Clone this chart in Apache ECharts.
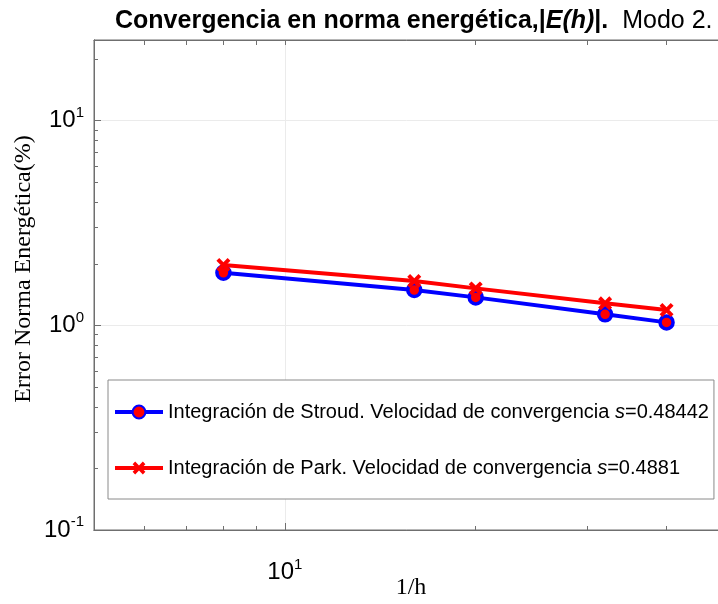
<!DOCTYPE html>
<html>
<head>
<meta charset="utf-8">
<script src="https://cdn.jsdelivr.net/npm/echarts@6.0.0/dist/echarts.min.js"></script>
<style>
  html, body { margin: 0; padding: 0; background: #fff; }
  #chart { width: 718px; height: 604px; }
</style>
</head>
<body>
<div id="chart"></div>
<script>
// 1/h values and error (%)
var invH = [8, 16, 20, 32, 40];
var errStroud = [1.807, 1.488, 1.370, 1.132, 1.034];
var errPark = [1.971, 1.646, 1.516, 1.281, 1.188];

var seriesNames = ['Integración de Stroud. Velocidad de convergencia', 'Integración de Park. Velocidad de convergencia'];
var rates = ['0.48442', '0.4881'];

// tick positions (log axes, MATLAB style)
var xMajor = [10];
var xMinor = [6, 7, 8, 9, 20, 30, 40];
var yMajor = [0.1, 1, 10];
var yMinor = [0.2, 0.3, 0.4, 0.5, 0.6, 0.7, 0.8, 0.9, 2, 3, 4, 5, 6, 7, 8, 9, 20];

var axisGray = '#6f6f6f';
var font = 'Liberation Sans, Arial';
var serif = 'Liberation Serif, Times New Roman';

function pairs(xs, ys) {
    return xs.map(function (x, i) { return [x, ys[i]]; });
}

function powLabel(v) {
    var e = Math.round(Math.log10(v));
    return '{b|10}{s|' + e + '}';
}

var powRich = {
    b: { fontFamily: font, fontSize: 24, color: '#000' },
    s: { fontFamily: font, fontSize: 15, color: '#000', padding: [0, 0, 16, 0] }
};

// helper: a tick-only log axis sharing the grid
function tickAxis(base, pos, ticks, len) {
    return {
        type: 'log', min: base[0], max: base[1], position: pos,
        axisLine: { show: true, lineStyle: { color: axisGray } },
        axisTick: { show: true, inside: true, length: len, customValues: ticks, lineStyle: { color: axisGray } },
        axisLabel: { show: false },
        splitLine: { show: false }
    };
}

var xRange = [5, 50];
var yRange = [0.1, 24.8];

var chart = echarts.init(document.getElementById('chart'));
chart.setOption({
    animation: false,
    title: {
        text: '{b|Convergencia en norma energética,|}{bi|E(h)}{b||.}{n|  Modo 2.}',
        left: 110,
        top: 4,
        textStyle: {
            rich: {
                b: { fontFamily: font, fontSize: 25, fontWeight: 'bold', color: '#000' },
                bi: { fontFamily: font, fontSize: 25, fontWeight: 'bold', fontStyle: 'italic', color: '#000' },
                n: { fontFamily: font, fontSize: 25, fontWeight: 'normal', color: '#000' }
            }
        }
    },
    grid: {
        left: 94, top: 40, width: 634, bottom: 74,
        outerBoundsMode: 'none',
        show: true, borderColor: axisGray, borderWidth: 1
    },
    legend: {
        orient: 'vertical',
        left: 108,
        top: 380,
        padding: [22, 5, 21, 5],
        itemGap: 36,
        itemWidth: 48,
        itemHeight: 16,
        backgroundColor: '#fff',
        borderColor: '#8a8a8a',
        borderWidth: 1,
        lineStyle: { width: 4 },
        formatter: function (name) {
            var i = seriesNames.indexOf(name);
            return '{a|' + name + ' }{i|s}{a|=' + rates[i] + '}';
        },
        textStyle: {
            rich: {
                a: { fontFamily: font, fontSize: 20, color: '#000' },
                i: { fontFamily: font, fontSize: 20, fontStyle: 'italic', color: '#000' }
            }
        }
    },
    xAxis: [{
        type: 'log',
        min: xRange[0], max: xRange[1],
        name: '1/h',
        nameLocation: 'middle',
        nameGap: 46,
        nameMoveOverlap: false,
        nameTextStyle: { fontFamily: serif, fontSize: 24, color: '#000' },
        axisLine: { show: true, lineStyle: { color: axisGray } },
        axisTick: { show: true, inside: true, length: 7, customValues: xMajor, lineStyle: { color: axisGray } },
        axisLabel: { customValues: xMajor, formatter: powLabel, rich: powRich, margin: 27 },
        splitLine: { show: true, lineStyle: { color: '#ebebeb' } }
    },
        tickAxis(xRange, 'bottom', xMinor, 4),
        tickAxis(xRange, 'top', xMajor.concat(xMinor), 5)
    ],
    yAxis: [{
        type: 'log',
        min: yRange[0], max: yRange[1],
        name: 'Error Norma Energética(%)',
        nameLocation: 'middle',
        nameGap: 58,
        nameMoveOverlap: false,
        nameTextStyle: { fontFamily: serif, fontSize: 24, color: '#000', padding: [0, 0, 0, 32] },
        axisLine: { show: true, lineStyle: { color: axisGray } },
        axisTick: { show: true, inside: true, length: 7, customValues: yMajor, lineStyle: { color: axisGray } },
        axisLabel: { customValues: yMajor, formatter: powLabel, rich: powRich, margin: 10 },
        splitLine: { show: true, lineStyle: { color: '#ebebeb' } }
    },
        tickAxis(yRange, 'left', yMinor, 4)
    ],
    series: [{
        name: seriesNames[0],
        type: 'line',
        data: pairs(invH, errStroud),
        symbol: 'circle',
        symbolSize: 13,
        lineStyle: { color: '#0000ff', width: 4 },
        itemStyle: { color: '#ff0000', borderColor: '#0000ff', borderWidth: 3.5 },
        z: 3
    }, {
        name: seriesNames[1],
        type: 'line',
        data: pairs(invH, errPark),
        symbol: 'path://M2,0 L5,3 L8,0 L10,2 L7,5 L10,8 L8,10 L5,7 L2,10 L0,8 L3,5 L0,2 Z',
        symbolSize: 14,
        lineStyle: { color: '#ff0000', width: 4 },
        itemStyle: { color: '#ff0000' },
        z: 4
    }]
});
</script>
</body>
</html>
